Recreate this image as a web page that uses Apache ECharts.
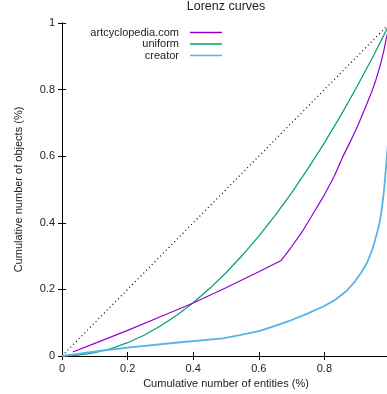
<!DOCTYPE html>
<html><head><meta charset="utf-8">
<script src="https://cdn.jsdelivr.net/npm/echarts@6/dist/echarts.min.js"></script>
<style>html,body{margin:0;padding:0;background:#fff}#c{width:387px;height:394px}</style>
</head><body><div id="c"></div>
<script>
var titleText = 'Lorenz curves';
var xName = 'Cumulative number of entities (%)';
var yName = 'Cumulative number of objects (%)';
var seriesNames = ['artcyclopedia.com', 'uniform', 'creator'];
var seriesColors = ['#9400d3', '#009e73', '#56b4e9'];

var equalityX = [0, 1];
var equalityY = [0, 1];

var artX = [0.033, 0.1, 0.2, 0.3, 0.4, 0.5, 0.6, 0.667, 0.7, 0.734, 0.76, 0.8, 0.83, 0.856, 0.88, 0.9, 0.925, 0.944, 0.956, 0.97, 0.98, 0.988, 1.0];
var artY = [0.012, 0.038, 0.077, 0.118, 0.159, 0.205, 0.253, 0.286, 0.328, 0.376, 0.418, 0.484, 0.54, 0.598, 0.646, 0.688, 0.746, 0.793, 0.826, 0.872, 0.912, 0.95, 1.0];

var uniX = [0, 0.05, 0.1, 0.15, 0.2, 0.25, 0.3, 0.35, 0.4, 0.45, 0.5, 0.55, 0.6, 0.65, 0.7, 0.75, 0.8, 0.85, 0.9, 0.95, 1.0];
var uniY = [0, 0.0025, 0.01, 0.0225, 0.04, 0.0625, 0.09, 0.1225, 0.16, 0.2025, 0.25, 0.3025, 0.36, 0.4225, 0.49, 0.5625, 0.64, 0.7225, 0.81, 0.9025, 1.0];

var creX = [0, 0.033, 0.08, 0.137, 0.2, 0.338, 0.49, 0.542, 0.6, 0.643, 0.7, 0.75, 0.8, 0.835, 0.867, 0.89, 0.912, 0.93, 0.947, 0.962, 0.968, 0.975, 0.982, 0.988, 0.999, 1.0];
var creY = [0, 0.004, 0.011, 0.018, 0.025, 0.039, 0.053, 0.063, 0.075, 0.088, 0.108, 0.128, 0.15, 0.17, 0.195, 0.22, 0.25, 0.28, 0.322, 0.375, 0.4, 0.44, 0.5, 0.568, 0.7, 1.0];

var xTicks = [0, 0.2, 0.4, 0.6, 0.8, 1];
var yTicks = [0, 0.2, 0.4, 0.6, 0.8, 1];

function pairs(xs, ys) { return xs.map(function (x, i) { return [x, ys[i]]; }); }
function fmt(v) { return String(Math.round(v * 10) / 10); }

var FONT = 'Liberation Sans';
var TXT = '#222';
var chart = echarts.init(document.getElementById('c'), null, {renderer: 'canvas'});

var lineStyleAxis = {color: '#000', width: 1};
function axisBase(extra) {
  return Object.assign({
    type: 'value', min: 0, max: 1, interval: 0.2,
    axisLine: {show: true, lineStyle: lineStyleAxis},
    axisTick: {show: true, inside: true, length: 4, lineStyle: {color: '#000', width: 1}},
    splitLine: {show: false},
    axisLabel: {color: TXT, fontFamily: FONT, fontSize: 11, formatter: fmt}
  }, extra);
}

var legends = seriesNames.map(function (n, i) {
  return {
    data: [n], right: 165, top: 27 + i * 11.5, align: 'right', orient: 'vertical',
    icon: 'rect', itemWidth: 32, itemHeight: 1.5, itemGap: 0, padding: 0,
    textStyle: {color: TXT, fontFamily: FONT, fontSize: 11, padding: [0, 6, 0, 0]},
    selectedMode: false
  };
});

chart.setOption({
  animation: false,
  backgroundColor: '#fff',
  title: {text: titleText, left: 226, top: 0, padding: 0, textAlign: 'center',
    textStyle: {color: TXT, fontFamily: FONT, fontSize: 12.5, fontWeight: 'normal'}},
  legend: legends,
  grid: {left: 62, right: -3, top: 23, bottom: 38, containLabel: false, outerBoundsMode: 'none'},
  xAxis: [
    axisBase({position: 'bottom', name: xName, nameLocation: 'middle', nameGap: 22,
      nameTextStyle: {color: TXT, fontFamily: FONT, fontSize: 11},
      axisLabel: {color: TXT, fontFamily: FONT, fontSize: 11, formatter: fmt, margin: 7}}),
    axisBase({position: 'top', axisLabel: {show: false}})
  ],
  yAxis: [
    axisBase({position: 'left', name: yName, nameLocation: 'middle', nameGap: 38,
      nameTextStyle: {color: TXT, fontFamily: FONT, fontSize: 11},
      axisLabel: {color: TXT, fontFamily: FONT, fontSize: 11, formatter: fmt, margin: 7}}),
    axisBase({position: 'right', axisLabel: {show: false}})
  ],
  series: [
    {name: 'equality', type: 'line', data: pairs(equalityX, equalityY), showSymbol: false, symbol: 'none',
      lineStyle: {color: '#000', width: 1.2, type: [1, 3]}, silent: true, z: 1},
    {name: seriesNames[0], type: 'line', data: pairs(artX, artY), symbol: 'none', smooth: false,
      color: seriesColors[0], lineStyle: {color: seriesColors[0], width: 1.2}, z: 3},
    {name: seriesNames[1], type: 'line', data: pairs(uniX, uniY), symbol: 'none', smooth: false,
      color: seriesColors[1], lineStyle: {color: seriesColors[1], width: 1.2}, z: 2},
    {name: seriesNames[2], type: 'line', data: pairs(creX, creY), symbol: 'none', smooth: false,
      color: seriesColors[2], lineStyle: {color: seriesColors[2], width: 1.8}, z: 4}
  ]
});
</script></body></html>
